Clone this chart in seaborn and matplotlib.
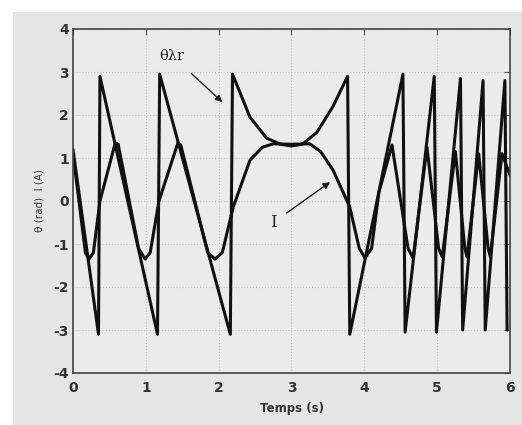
import numpy as np
import pandas as pd
import matplotlib
matplotlib.use("Agg")
import matplotlib.pyplot as plt
import seaborn as sns
from matplotlib.patches import Rectangle

# theta (rad) sawtooth
theta_t = [0.0, 0.35, 0.37, 1.16, 1.19, 2.16, 2.19, 2.43, 2.66, 2.85, 3.0, 3.15, 3.35, 3.57, 3.77,
           3.80, 4.53, 4.56, 4.96, 4.99, 5.32, 5.35, 5.63, 5.66, 5.93, 5.96]
theta_v = [1.2, -3.1, 2.9, -3.1, 2.95, -3.1, 2.95, 1.95, 1.46, 1.32, 1.28, 1.32, 1.6, 2.2, 2.9,
           -3.1, 2.95, -3.05, 2.9, -3.05, 2.85, -3.0, 2.8, -3.0, 2.8, -3.0]

# current I (A)
cur_t = [0.0, 0.17, 0.22, 0.28, 0.37, 0.58, 0.62, 0.9, 0.99, 1.06, 1.18, 1.44, 1.48, 1.85, 1.95, 2.05,
         2.2, 2.43, 2.6, 2.75, 3.0, 3.25, 3.4, 3.57, 3.8, 3.93, 4.01, 4.1, 4.2, 4.38, 4.6, 4.67, 4.86,
         5.02, 5.07, 5.25, 5.38, 5.41, 5.57, 5.70, 5.73, 5.89, 6.0]
cur_v = [1.1, -1.2, -1.35, -1.2, 0.0, 1.35, 1.32, -1.1, -1.35, -1.2, 0.0, 1.35, 1.3, -1.2, -1.35, -1.2,
         -0.14, 0.95, 1.25, 1.33, 1.32, 1.33, 1.15, 0.72, -0.14, -1.1, -1.33, -1.1, 0.2, 1.3, -1.1, -1.33,
         1.25, -1.1, -1.3, 1.15, -1.1, -1.3, 1.1, -1.1, -1.3, 1.1, 0.6]

x_ticks = [0, 1, 2, 3, 4, 5, 6]
y_ticks = [-4, -3, -2, -1, 0, 1, 2, 3, 4]

df_theta = pd.DataFrame({"t": theta_t, "v": theta_v})
df_cur = pd.DataFrame({"t": cur_t, "v": cur_v})

sns.set_style("white")
plt.rcParams['font.family'] = ['DejaVu Sans']

fig = plt.figure(figsize=(5.22, 4.25), dpi=100, facecolor="white")
fig.patches.append(Rectangle((13 / 522, 0), 1, (425 - 12) / 425, transform=fig.transFigure,
                             facecolor="#e5e5e5", edgecolor="none", zorder=-10))
ax = fig.add_axes([73 / 522, (425 - 373) / 425, (510 - 73) / 522, (373 - 29) / 425])
ax.set_facecolor("#ebebeb")

sns.lineplot(data=df_theta, x="t", y="v", sort=False, estimator=None, color="#111111", lw=2.2, ax=ax)
sns.lineplot(data=df_cur, x="t", y="v", sort=False, estimator=None, color="#111111", lw=2.2, ax=ax)

ax.set_xlim(0, 6)
ax.set_ylim(-4, 4)
ax.set_xticks(x_ticks)
ax.set_yticks(y_ticks)
ax.set_xticklabels([str(v) for v in x_ticks], fontsize=10, fontweight="bold", color="#333333")
ax.set_yticklabels([str(v) for v in y_ticks], fontsize=10, fontweight="bold", color="#333333")
ax.tick_params(direction="in", length=4, top=True, right=True, color="#555555")
ax.tick_params(axis="x", pad=6)
ax.tick_params(axis="y", pad=3)
ax.grid(True, linestyle=":", color="#c4c4c4", lw=0.8)
for s in ax.spines.values():
    s.set_color("#444444")
    s.set_linewidth(1.2)

ax.set_xlabel("Temps (s)", fontsize=8.5, fontweight="bold", color="#333333", labelpad=5)
ax.set_ylabel("θ (rad)  I (A)", fontsize=7.5, color="#333333", labelpad=6)

ax.annotate("θλr", xy=(2.05, 2.3), xytext=(1.36, 3.38), fontsize=10.5, family="DejaVu Serif",
            ha="center", va="center", color="#222222",
            arrowprops=dict(arrowstyle="-|>", color="#222222", lw=1.0, mutation_scale=10,
                            shrinkA=8, shrinkB=0))
ax.annotate("I", xy=(3.53, 0.44), xytext=(2.75, -0.5), fontsize=12, family="DejaVu Serif",
            ha="center", va="center", color="#222222",
            arrowprops=dict(arrowstyle="-|>", color="#222222", lw=1.0, mutation_scale=10,
                            shrinkA=6, shrinkB=0))

fig.savefig("out.png", dpi=100, facecolor=fig.get_facecolor())
